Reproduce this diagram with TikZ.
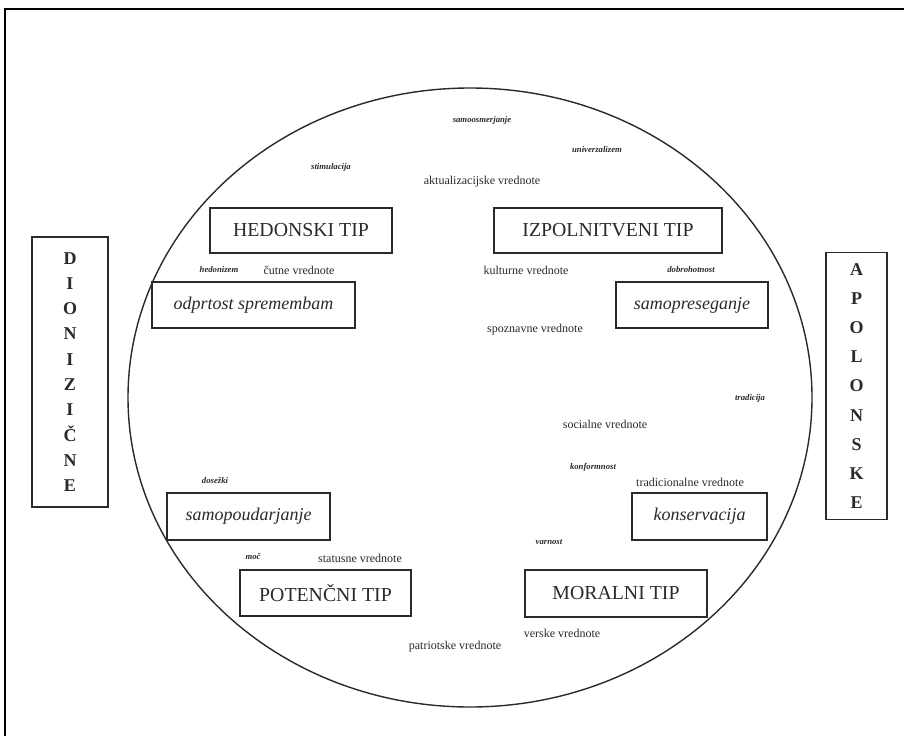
\documentclass[tikz,border=0pt]{standalone}
\usepackage{fontspec}
\setmainfont{Liberation Serif}
\definecolor{ink}{HTML}{2A2A2A}
\begin{document}
\begin{tikzpicture}[x=1pt,y=-1pt,
  typebox/.style={draw=ink, line width=1.2pt, inner sep=0pt, text=ink,
    font=\fontsize{19.8}{22}\selectfont},
  valbox/.style={draw=ink, line width=1.2pt, inner sep=0pt, text=ink,
    font=\itshape\fontsize{18}{20}\selectfont},
  sidebox/.style={draw=ink, line width=1.2pt, inner sep=0pt, text=ink, align=center},
  val/.style={text=ink, inner sep=0pt, font=\fontsize{12}{14}\selectfont},
  motive/.style={text=ink, inner sep=0pt, font=\bfseries\itshape\fontsize{8.7}{10}\selectfont}
]
\useasboundingbox (0,0) rectangle (904,736);
\fill[white] (0,0) rectangle (904,736);

% page frame (left and top edges)
\draw[line width=2pt, black] (5,736) -- (5,9) -- (904,9);

% large ellipse
\draw[ink, line width=1.4pt] (470,397.5) ellipse [x radius=342, y radius=309.5];

% side columns
\node[sidebox, minimum width=76, minimum height=270,
  font=\bfseries\fontsize{18}{25.3}\selectfont] (dio) at (70,372)
  {D\\I\\O\\N\\I\\Z\\I\\Č\\N\\E};
\node[sidebox, minimum width=61, minimum height=267,
  font=\bfseries\fontsize{18}{29.1}\selectfont] (apo) at (856.5,386)
  {A\\P\\O\\L\\O\\N\\S\\K\\E};

% types
\node[typebox, minimum width=182, minimum height=45] (hed) at (301,230.5) {HEDONSKI TIP};
\node[typebox, minimum width=228, minimum height=45] (izp) at (608,230.5) {IZPOLNITVENI TIP};
\node[typebox, minimum width=171, minimum height=46] (pot) at (325.5,593) {POTENČNI TIP};
\node[typebox, minimum width=182, minimum height=47] (mor) at (616,593.5) {MORALNI TIP};

% value orientations
\node[valbox, minimum width=203, minimum height=46] (odp) at (253.5,305) {odprtost spremembam};
\node[valbox, minimum width=152, minimum height=46] (pre) at (692,305) {samopreseganje};
\node[valbox, minimum width=163, minimum height=47] (pou) at (248.5,516.5) {samopoudarjanje};
\node[valbox, minimum width=135, minimum height=47] (kon) at (699.5,516.5) {konservacija};

% values
\node[val] (akt) at (482,182) {aktualizacijske vrednote};
\node[val] (cut) at (299,270) {čutne vrednote};
\node[val] (kul) at (526,270) {kulturne vrednote};
\node[val] (spo) at (535,330) {spoznavne vrednote};
\node[val] (soc) at (605,424) {socialne vrednote};
\node[val] (tra) at (690,482) {tradicionalne vrednote};
\node[val] (sta) at (360,558) {statusne vrednote};
\node[val] (ver) at (562,633) {verske vrednote};
\node[val] (pat) at (455,647) {patriotske vrednote};

% motivational types
\node[motive] (sam) at (482,120) {samoosmerjanje};
\node[motive] (uni) at (597,150) {univerzalizem};
\node[motive] (sti) at (331,167) {stimulacija};
\node[motive] (hdz) at (219,270) {hedonizem};
\node[motive] (dob) at (691,270) {dobrohotnost};
\node[motive] (trd) at (750,398) {tradicija};
\node[motive] (knf) at (593,467) {konformnost};
\node[motive] (dos) at (215,480) {dosežki};
\node[motive] (moc) at (253,556) {moč};
\node[motive] (var) at (549,542) {varnost};
\end{tikzpicture}
\end{document}
